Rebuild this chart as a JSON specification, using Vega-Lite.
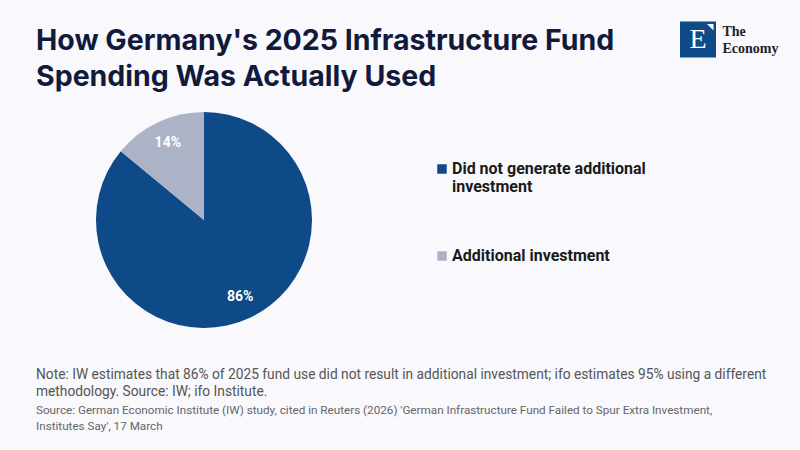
{
  "$schema": "https://vega.github.io/schema/vega-lite/v6.json",
  "background": "#f8f8fd",
  "padding": {"left": 36, "top": 15, "right": 30, "bottom": 40},
  "config": {
    "view": {"stroke": null},
    "font": "Roboto",
    "concat": {"spacing": 6}
  },
  "datasets": {
    "shares": [
      {"category": "Did not generate additional investment", "share": 86, "label": "86%", "rank": 1},
      {"category": "Additional investment", "share": 14, "label": "14%", "rank": 2}
    ],
    "logo": [{"mark": "E", "name": ["The", "Economy"]}]
  },
  "spacing": 21,
  "vconcat": [
    {
      "hconcat": [
        {
          "width": 638,
          "height": 1,
          "title": {
            "text": ["How Germany's 2025 Infrastructure Fund", "Spending Was Actually Used"],
            "orient": "bottom",
            "anchor": "start",
            "baseline": "top",
            "font": "Inter",
            "fontSize": 28.5,
            "fontWeight": "bold",
            "lineHeight": 36,
            "color": "#111a3a",
            "offset": 0
          },
          "data": {"name": "logo"},
          "mark": {"type": "text", "opacity": 0},
          "encoding": {"text": {"field": "mark"}}
        },
        {
          "width": 36,
          "height": 37,
          "data": {"name": "logo"},
          "layer": [
            {
              "mark": {"type": "point", "shape": "square", "size": 1296, "filled": true, "opacity": 1, "color": "#0e4a87"},
              "encoding": {}
            },
            {
              "mark": {"type": "point", "shape": "M0.5,-0.86L0.86,-0.86L0.86,-0.5Z", "size": 1296, "filled": true, "opacity": 1, "color": "white"},
              "encoding": {}
            },
            {
              "mark": {"type": "text", "color": "white", "font": "Liberation Serif", "fontSize": 28, "baseline": "middle"},
              "encoding": {"text": {"field": "mark"}}
            }
          ]
        },
        {
          "width": 1,
          "height": 37,
          "data": {"name": "logo"},
          "mark": {"type": "text", "align": "left", "baseline": "middle", "dy": -7.5, "font": "Liberation Serif", "fontSize": 14, "fontWeight": "bold", "lineHeight": 17, "color": "#222222"},
          "encoding": {"text": {"field": "name"}}
        }
      ]
    },
    {
      "width": 336,
      "height": 216,
      "data": {"name": "shares"},
      "title": {
        "text": [
          "Note: IW estimates that 86% of 2025 fund use did not result in additional investment; ifo estimates 95% using a different",
          "methodology. Source: IW; ifo Institute."
        ],
        "subtitle": [
          "Source: German Economic Institute (IW) study, cited in Reuters (2026) 'German Infrastructure Fund Failed to Spur Extra Investment,",
          "Institutes Say', 17 March"
        ],
        "orient": "bottom",
        "anchor": "start",
        "fontSize": 13.75,
        "fontWeight": "normal",
        "lineHeight": 17,
        "color": "#555555",
        "subtitleFontSize": 11.7,
        "subtitleLineHeight": 16,
        "subtitleColor": "#666666",
        "subtitlePadding": 6,
        "offset": 40
      },
      "encoding": {
        "theta": {"field": "share", "type": "quantitative", "stack": true},
        "order": {"field": "rank", "type": "ordinal"},
        "color": {
          "field": "category",
          "type": "nominal",
          "scale": {
            "domain": ["Did not generate additional investment", "Additional investment"],
            "range": ["#0e4a87", "#adb3c6"]
          },
          "legend": {
            "title": null,
            "orient": "none",
            "legendX": 398,
            "legendY": 140,
            "symbolType": "square",
            "symbolSize": 90,
            "symbolStrokeWidth": 0,
            "labelFont": "Roboto",
            "labelFontSize": 16,
            "labelFontWeight": "bold",
            "labelColor": "#1a1a1a",
            "labelLimit": 300,
            "labelOffset": 2,
            "rowPadding": 53,
            "labelExpr": "datum.label == 'Did not generate additional investment' ? ['Did not generate additional', 'investment'] : datum.label"
          }
        }
      },
      "layer": [
        {"mark": {"type": "arc"}},
        {
          "mark": {"type": "text", "radius": 85, "fontSize": 14, "fontWeight": "bold"},
          "encoding": {
            "text": {"field": "label"},
            "color": {"value": "white"}
          }
        }
      ]
    }
  ]
}
